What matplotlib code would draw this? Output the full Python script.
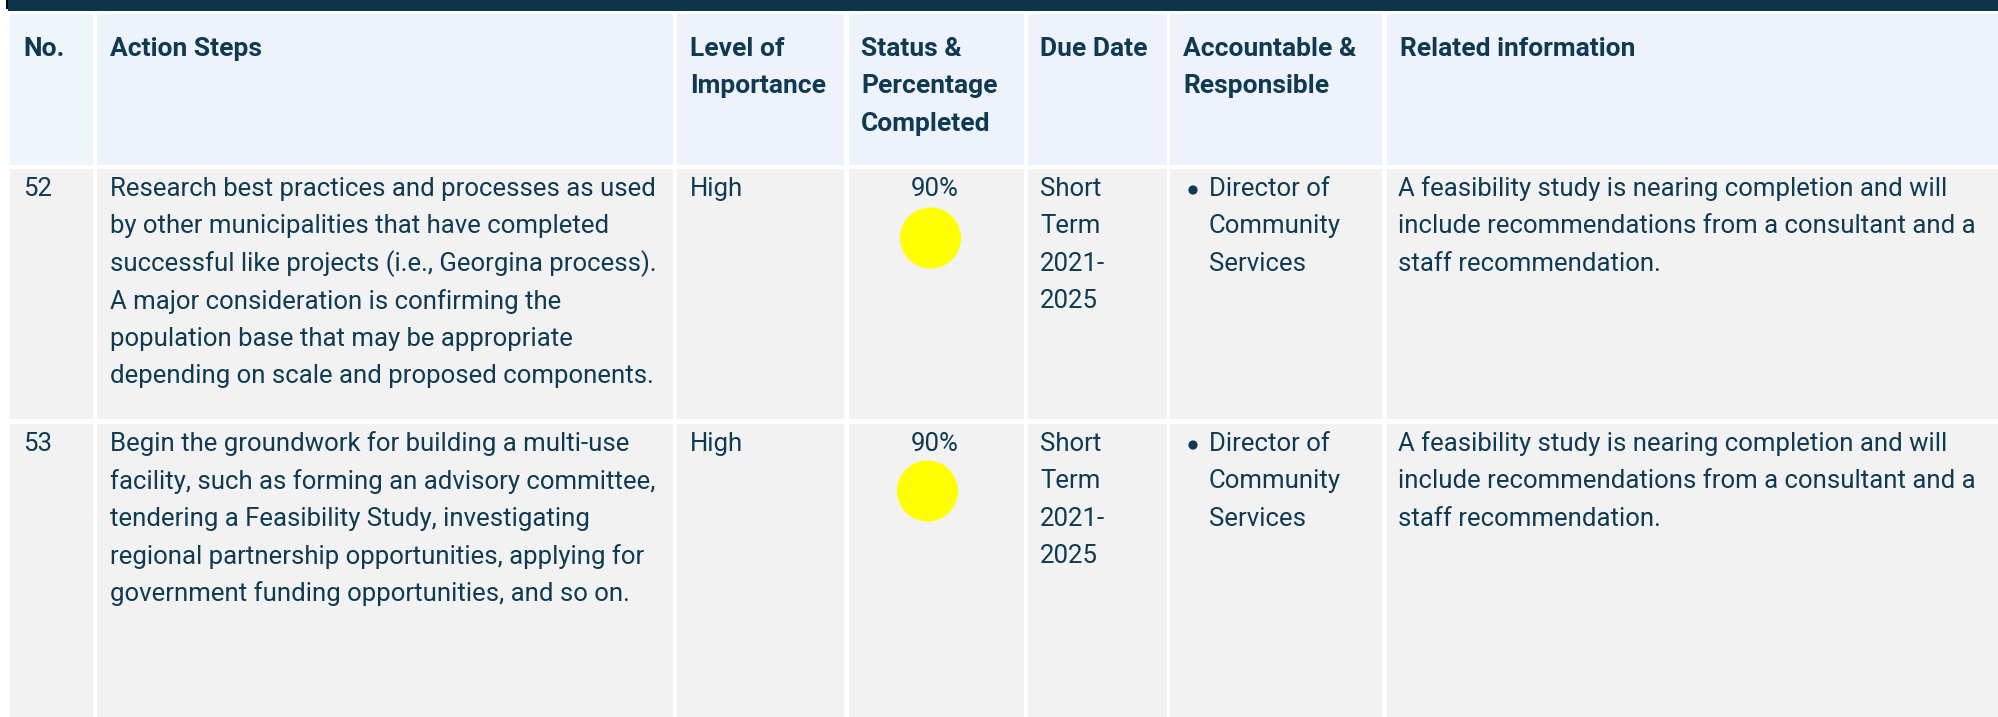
import matplotlib
matplotlib.use("Agg")
import matplotlib.pyplot as plt
from matplotlib.patches import Rectangle, Circle

# ---- data ----
headers = [["No."], ["Action Steps"], ["Level of", "Importance"],
           ["Status &", "Percentage", "Completed"], ["Due Date"],
           ["Accountable &", "Responsible"], ["Related information"]]
row_numbers = ["52", "53"]
action_steps = [
    ["Research best practices and processes as used",
     "by other municipalities that have completed",
     "successful like projects (i.e., Georgina process).",
     "A major consideration is confirming the",
     "population base that may be appropriate",
     "depending on scale and proposed components."],
    ["Begin the groundwork for building a multi-use",
     "facility, such as forming an advisory committee,",
     "tendering a Feasibility Study, investigating",
     "regional partnership opportunities, applying for",
     "government funding opportunities, and so on."],
]
importance = ["High", "High"]
percent_complete = [90, 90]
status_colors = ["#FFFF00", "#FFFF00"]
due_dates = [["Short", "Term", "2021-", "2025"], ["Short", "Term", "2021-", "2025"]]
accountable = [["Director of", "Community", "Services"], ["Director of", "Community", "Services"]]
related_info = [
    ["A feasibility study is nearing completion and will",
     "include recommendations from a consultant and a",
     "staff recommendation."],
    ["A feasibility study is nearing completion and will",
     "include recommendations from a consultant and a",
     "staff recommendation."],
]

# ---- layout (pixels) ----
W, H = 1999, 717
col_edges = [(10, 93), (97, 673), (677, 844), (849, 1024), (1028, 1167), (1170, 1382), (1387, 1999)]
header_span = (14, 165)
row_spans = [(169, 419), (424, 717)]
header_x = [23, 110, 690, 861, 1040, 1183, 1400]
text_x = [23, 110, 690, None, 1040, 1209, 1398]
line_h = 37.4
TXT = "#0F3A52"
FONT = "Roboto"
FS = 18.5
HFS = 19

fig = plt.figure(figsize=(W / 100, H / 100), dpi=100)
ax = fig.add_axes([0, 0, 1, 1])
ax.set_xlim(0, W)
ax.set_ylim(H, 0)
ax.axis("off")
fig.patch.set_facecolor("white")

# top dark bar
ax.add_patch(Rectangle((8, 0), W - 8, 11, color="#0E3449", lw=0))
ax.add_patch(Rectangle((6, 0), 2.5, 9, color="#000000", lw=0))

# header cells
for i, (x0, x1) in enumerate(col_edges):
    fc = "#EFF6FA" if i == 0 else "#EEF3FB"
    ax.add_patch(Rectangle((x0, header_span[0]), x1 - x0, header_span[1] - header_span[0], color=fc, lw=0))
    for j, line in enumerate(headers[i]):
        ax.text(header_x[i], 49 + j * line_h, line, fontsize=HFS, fontweight="bold",
                family=FONT, color=TXT, va="center", ha="left")

# body rows
for r, (y0, y1) in enumerate(row_spans):
    for (x0, x1) in col_edges:
        ax.add_patch(Rectangle((x0, y0), x1 - x0, y1 - y0, color="#F2F2F2", lw=0))
    yl = y0 + 20
    ax.text(text_x[0], yl, row_numbers[r], fontsize=FS, family=FONT, color=TXT, va="center")
    for j, line in enumerate(action_steps[r]):
        ax.text(text_x[1], yl + j * line_h, line, fontsize=FS, family=FONT, color=TXT, va="center")
    ax.text(text_x[2], yl, importance[r], fontsize=FS, family=FONT, color=TXT, va="center")
    cx = (col_edges[3][0] + col_edges[3][1]) / 2
    ax.text(cx - 2, yl, f"{percent_complete[r]}%", fontsize=FS, family=FONT, color=TXT, va="center", ha="center")
    ax.add_patch(Circle((cx - 6 - 3 * r, yl + 49 - 2 * r), 30.5, color=status_colors[r], lw=0))
    for j, line in enumerate(due_dates[r]):
        ax.text(text_x[4], yl + j * line_h, line, fontsize=FS, family=FONT, color=TXT, va="center")
    ax.add_patch(Circle((1193, yl + 1), 4.6, color=TXT, lw=0))
    for j, line in enumerate(accountable[r]):
        ax.text(text_x[5], yl + j * line_h, line, fontsize=FS, family=FONT, color=TXT, va="center")
    for j, line in enumerate(related_info[r]):
        ax.text(text_x[6], yl + j * line_h, line, fontsize=FS, family=FONT, color=TXT, va="center")

fig.savefig("out.png", dpi=100)
